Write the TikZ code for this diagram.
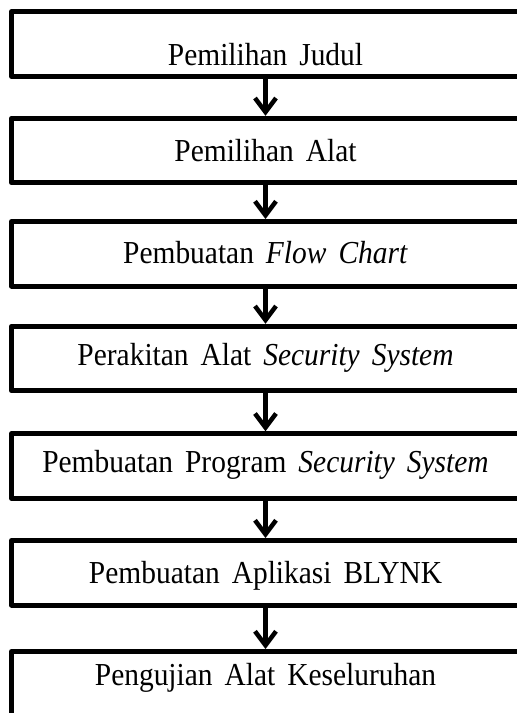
\documentclass[tikz,border=0pt]{standalone}
\usepackage{fontspec}
\setmainfont{Liberation Serif}[FakeStretch=0.92]
\usetikzlibrary{arrows.meta}
\newcommand\widespaces{\spaceskip=12pt plus 0pt minus 0pt\relax}
\tikzset{
  stepbox/.style={draw=black, line width=5pt, line join=round, minimum width=508pt,
    minimum height=64.5pt, inner sep=2pt, text depth=0pt, anchor=center,
    font=\fontsize{32}{38}\selectfont, execute at begin node=\widespaces},
  flowarrow/.style={draw=black, line width=4.5pt, -{Straight Barb[length=14pt,width=21pt]}}
}
\begin{document}
\begin{tikzpicture}[x=1pt,y=-1pt]
\clip (0,0) rectangle (517,713);
\node[stepbox, text height=42pt] (b1) at (265.5,44) {Pemilihan Judul};
\node[stepbox, text height=21pt] (b2) at (265.5,150.5) {Pemilihan Alat};
\node[stepbox, text height=18.5pt] (b3) at (265.5,253.75) {Pembuatan \textit{Flow Chart}};
\node[stepbox, text height=13pt] (b4) at (265.5,358.5) {Perakitan Alat \textit{Security System}};
\node[stepbox, text height=12pt] (b5) at (265.5,466) {Pembuatan Program \textit{Security System}};
\node[stepbox, text height=20.5pt] (b6) at (265.5,572.75) {Pembuatan Aplikasi BLYNK};
\node[stepbox, minimum height=68.5pt, text height=0pt, text depth=1.5pt] (b7) at (265.5,685.75) {Pengujian Alat Keseluruhan};
\draw[flowarrow] (b1.south) -- (b2.north);
\draw[flowarrow] (b2.south) -- (b3.north);
\draw[flowarrow] (b3.south) -- (b4.north);
\draw[flowarrow] (b4.south) -- (b5.north);
\draw[flowarrow] (b5.south) -- (b6.north);
\draw[flowarrow] (b6.south) -- (b7.north);
\end{tikzpicture}
\end{document}
